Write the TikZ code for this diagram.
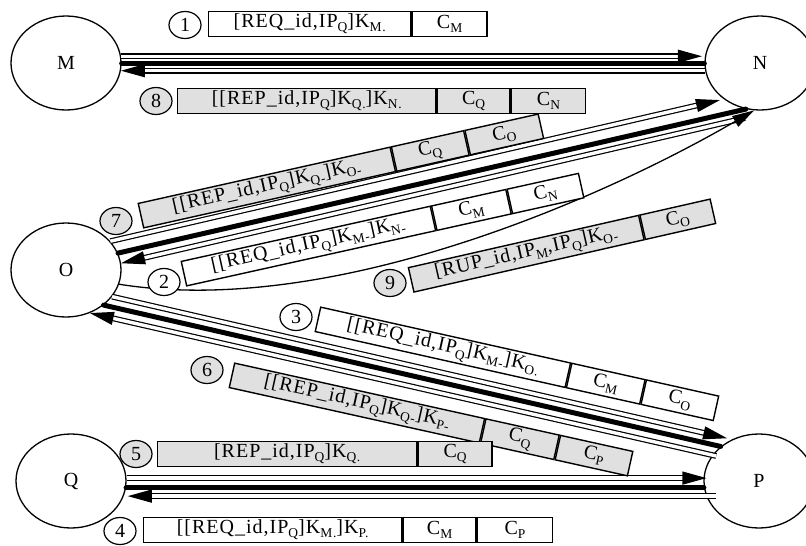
\documentclass[tikz,border=0pt]{standalone}
\usepackage{fontspec}
\setmainfont{Liberation Serif}
\newfontfamily\msgfamily[LetterSpace=5]{Liberation Serif}
\usetikzlibrary{shapes.geometric,arrows.meta}
\definecolor{boxgray}{RGB}{224,224,224}
\newcommand\sbx[1]{\raisebox{-0.22em}{\fontsize{13.5}{13.5}\selectfont #1}}
\newcommand\msgfont{\msgfamily\fontsize{20}{22}\selectfont}
\begin{document}
\begin{tikzpicture}[x=1pt,y=-1pt,
  station/.style={ellipse, draw, line width=1.3pt, minimum width=110pt, minimum height=94pt, inner sep=0pt, fill=white, font=\fontsize{20}{20}\selectfont},
  num/.style={ellipse, draw, line width=1.2pt, minimum width=32pt, minimum height=27pt, inner sep=0pt, font=\fontsize{20}{20}\selectfont},
  numw/.style={num, fill=white},
  numg/.style={num, fill=boxgray},
  cell/.style={rectangle, draw, line width=1.4pt, minimum height=25pt, inner sep=0pt, font=\msgfont},
  cellw/.style={cell, fill=white},
  cellg/.style={cell, fill=boxgray},
  msg/.style={draw, double=white, double distance=3.4pt, line width=1.2pt, -{Triangle[length=24pt,width=13pt]}},
  bar/.style={draw, line width=5pt, line cap=round},
  curvearrow/.style={draw, line width=1.3pt, -{Triangle[length=22pt,width=12pt]}}
]
\useasboundingbox (0,0) rectangle (806,546);
% stations
\node[station] (M) at (66,63) {M};
\node[station] (N) at (760,63) {N};
\node[station] (O) at (66,270) {O};
\node[station] (Q) at (71,481) {Q};
\node[station] (P) at (759,481) {P};
\coordinate (n2) at (745,118);
% M--N
\draw[bar] (M.east) -- (N.west);
\draw[msg, shorten >=3pt] (M.7) -- (N.173);
\draw[msg] (N.188) -- (M.-8);
% Q--P
\draw[bar] (Q.-7) -- (P.187);
\draw[msg, shorten >=-3pt] (Q.3) -- (P.177);
\draw[msg, shorten <=-10pt, shorten >=4pt] (P.196) -- (Q.-16);
% O--N
\draw[bar] (O.18) -- (N.253);
\draw[msg, shorten >=4pt] (O.33) -- (N.225);
\draw[msg] (n2) -- (O.7);
\draw[curvearrow] (O.-15) .. controls (330,318) and (600,200) .. (N.263);
% O--P
\draw[bar] (O.-43) -- (P.138);
\draw[msg, shorten >=5pt] (O.-30) -- (P.123);
\draw[msg, shorten <=-4pt] (P.151) -- (O.-61);
% box 1
\node[cellw, anchor=south west, minimum width=202pt] (b1a) at (208,37) {[REQ\_id,IP\sbx{Q}]K\sbx{M.}};
\node[cellw, anchor=west, minimum width=75pt] (b1b) at (b1a.east) {C\sbx{M}};
\node[numw] (c1) at (185,25) {1};
% box 8
\node[cellg, anchor=south west, minimum width=258pt] (b8a) at (177,114) {[[REP\_id,IP\sbx{Q}]K\sbx{Q.}]K\sbx{N.}};
\node[cellg, anchor=west, minimum width=73pt] (b8b) at (b8a.east) {C\sbx{Q}};
\node[cellg, anchor=west, minimum width=74pt] (b8c) at (b8b.east) {C\sbx{N}};
\node[numg] (c8) at (156,101) {8};
% box 7
\node[cellg, rotate=12.6, anchor=west, minimum width=258pt] (b7a) at (140.3,215.8) {[[REP\_id,IP\sbx{Q}]K\sbx{Q-}]K\sbx{O-}};
\node[cellg, rotate=12.6, anchor=west, minimum width=74pt] (b7b) at (b7a.east) {C\sbx{Q}};
\node[cellg, rotate=12.6, anchor=west, minimum width=75pt] (b7c) at (b7b.east) {C\sbx{O}};
\node[numg] (c7) at (116,221) {7};
% box 2
\node[cellw, rotate=12.5, anchor=west, minimum width=255pt] (b2a) at (183.3,273.8) {[[REQ\_id,IP\sbx{Q}]K\sbx{M-}]K\sbx{N-}};
\node[cellw, rotate=12.5, anchor=west, minimum width=76pt] (b2b) at (b2a.east) {C\sbx{M}};
\node[cellw, rotate=12.5, anchor=west, minimum width=73pt] (b2c) at (b2b.east) {C\sbx{N}};
\node[numw] (c2) at (164,282) {2};
% box 9
\node[cellg, rotate=12.8, anchor=west, minimum width=236pt] (b9a) at (410.5,280) {[RUP\_id,IP\sbx{M},IP\sbx{Q}]K\sbx{O-}};
\node[cellg, rotate=12.8, anchor=west, minimum width=72pt] (b9b) at (b9a.east) {C\sbx{O}};
\node[numg] (c9) at (390,283) {9};
% box 3
\node[cellw, rotate=-12.6, anchor=west, minimum width=256pt] (b3a) at (317.3,319.2) {[[REQ\_id,IP\sbx{Q}]K\sbx{M-}]K\sbx{O.}};
\node[cellw, rotate=-12.6, anchor=west, minimum width=75pt] (b3b) at (b3a.east) {C\sbx{M}};
\node[cellw, rotate=-12.6, anchor=west, minimum width=74pt] (b3c) at (b3b.east) {C\sbx{O}};
\node[numw] (c3) at (296,317) {3};
% box 6
\node[cellg, rotate=-12.5, anchor=west, minimum width=256pt] (b6a) at (231.3,375.2) {[[REP\_id,IP\sbx{Q}]K\sbx{Q-}]K\sbx{P-}};
\node[cellg, rotate=-12.5, anchor=west, minimum width=75pt] (b6b) at (b6a.east) {C\sbx{Q}};
\node[cellg, rotate=-12.5, anchor=west, minimum width=74pt] (b6c) at (b6b.east) {C\sbx{P}};
\node[numg] (c6) at (207,370) {6};
% box 5
\node[cellg, anchor=south west, minimum width=259pt] (b5a) at (157,467) {[REP\_id,IP\sbx{Q}]K\sbx{Q.}};
\node[cellg, anchor=west, minimum width=74pt] (b5b) at (b5a.east) {C\sbx{Q}};
\node[numg] (c5) at (136,454) {5};
% box 4
\node[cellw, anchor=south west, minimum width=258pt] (b4a) at (143,543) {[[REQ\_id,IP\sbx{Q}]K\sbx{M.}]K\sbx{P.}};
\node[cellw, anchor=west, minimum width=73pt] (b4b) at (b4a.east) {C\sbx{M}};
\node[cellw, anchor=west, minimum width=75pt] (b4c) at (b4b.east) {C\sbx{P}};
\node[numw] (c4) at (120,531) {4};
\end{tikzpicture}
\end{document}
